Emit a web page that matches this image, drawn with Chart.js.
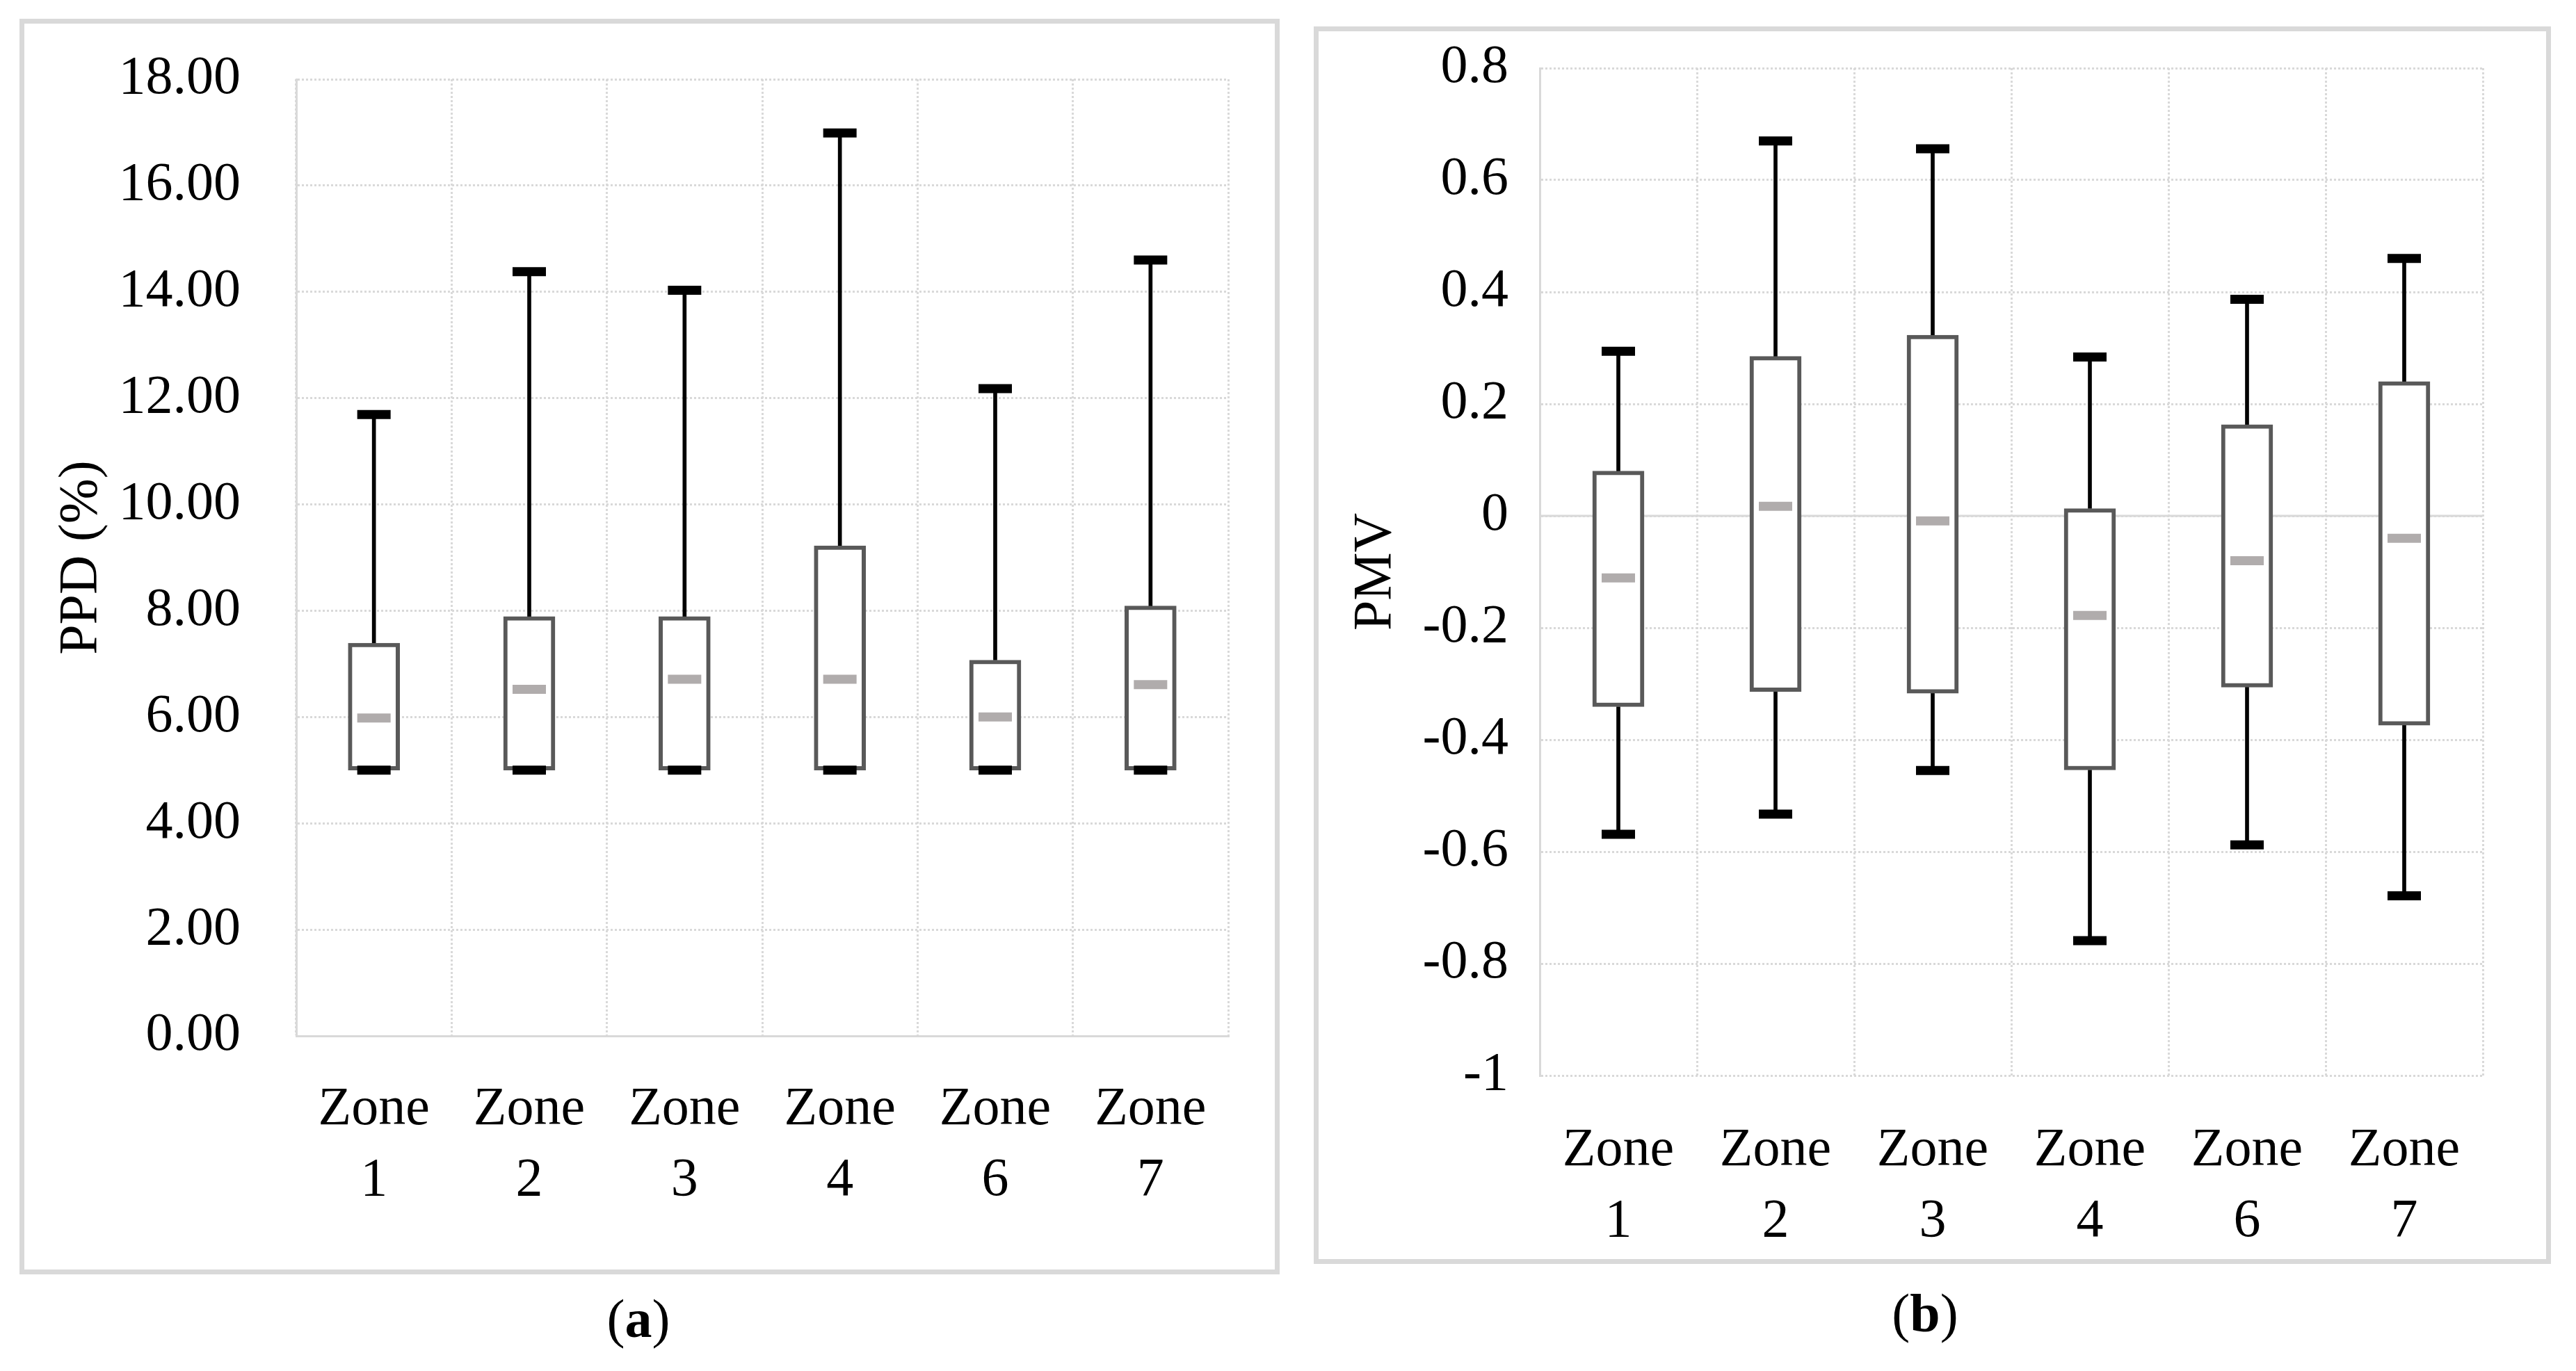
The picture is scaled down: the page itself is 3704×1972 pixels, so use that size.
<!DOCTYPE html>
<html><head><meta charset="utf-8">
<script src="https://cdn.jsdelivr.net/npm/chart.js@4.4.1/dist/chart.umd.min.js"></script>
<style>
html,body{margin:0;padding:0;background:#fff;width:3704px;height:1972px;overflow:hidden;position:relative;font-family:'Liberation Serif',serif;}
.frame{position:absolute;border:7px solid #d9d9d9;box-sizing:border-box;}
canvas{position:absolute;top:0;}
.cap{position:absolute;font-size:78px;line-height:1;transform:translate(-50%,-50%);color:#000;white-space:nowrap;font-family:'Liberation Serif',serif;}
</style></head><body>
<div class="frame" style="left:28px;top:27px;width:1812px;height:1806px"></div>
<div class="frame" style="left:1889px;top:38px;width:1779px;height:1780px"></div>
<canvas id="ppd" width="1860" height="1972" style="left:0;width:1860px;height:1972px"></canvas>
<canvas id="pmv" width="1844" height="1972" style="left:1860px;width:1844px;height:1972px"></canvas>
<div class="cap" style="left:918px;top:1897px">(<b>a</b>)</div>
<div class="cap" style="left:2768px;top:1889px">(<b>b</b>)</div>
<script>
// ---- data ----
const zones = [['Zone','1'],['Zone','2'],['Zone','3'],['Zone','4'],['Zone','6'],['Zone','7']];

const ppdMin    = [5.00, 5.00, 5.00, 5.00, 5.00, 5.00];
const ppdQ1     = [5.00, 5.00, 5.00, 5.00, 5.00, 5.00];
const ppdMedian = [5.98, 6.52, 6.71, 6.71, 6.00, 6.61];
const ppdQ3     = [7.39, 7.89, 7.89, 9.22, 7.07, 8.09];
const ppdMax    = [11.69, 14.38, 14.03, 16.99, 12.18, 14.60];
const ppdTickValues = [0, 2, 4, 6, 8, 10, 12, 14, 16, 18];
const ppdTickLabels = ['0.00','2.00','4.00','6.00','8.00','10.00','12.00','14.00','16.00','18.00'];

const pmvMin    = [-0.569, -0.533, -0.455, -0.759, -0.588, -0.679];
const pmvQ1     = [-0.341, -0.314, -0.317, -0.454, -0.306, -0.374];
const pmvMedian = [-0.111, 0.017, -0.009, -0.178, -0.080, -0.040];
const pmvQ3     = [0.080, 0.285, 0.323, 0.013, 0.163, 0.240];
const pmvMax    = [0.294, 0.670, 0.656, 0.284, 0.387, 0.460];
const pmvTickValues = [-1, -0.8, -0.6, -0.4, -0.2, 0, 0.2, 0.4, 0.6, 0.8];
const pmvTickLabels = ['-1','-0.8','-0.6','-0.4','-0.2','0','0.2','0.4','0.6','0.8'];

// ---- rendering ----
Chart.defaults.font.family = "'Liberation Serif', serif";
Chart.defaults.color = '#000';

const zeroLine = {
  id: 'zeroLine',
  beforeDatasetsDraw(chart, args, opts) {
    if (!opts.show) return;
    const {ctx, chartArea} = chart;
    const y = chart.scales.y.getPixelForValue(0);
    ctx.save();
    ctx.strokeStyle = '#d9d9d9';
    ctx.lineWidth = 3;
    ctx.beginPath();
    ctx.moveTo(chartArea.left, y);
    ctx.lineTo(chartArea.right, y);
    ctx.stroke();
    ctx.restore();
  }
};

function pair(a, b) { return a.map((v, i) => [v, b[i]]); }

function boxChart(id, d, cfg) {
  const mark = (data, color, order) => ({
    type: 'line', data, showLine: false, order,
    pointStyle: 'line', pointRadius: 24, pointHoverRadius: 24,
    pointBorderWidth: 13, pointHoverBorderWidth: 13,
    pointBorderColor: color, pointBackgroundColor: color, borderColor: color
  });
  return new Chart(document.getElementById(id), {
    type: 'bar',
    data: {
      labels: zones,
      datasets: [
        mark(d.max, '#000', 0),
        mark(d.min, '#000', 0),
        mark(d.median, '#b0acac', 0),
        { data: pair(d.q1, d.q3), backgroundColor: '#fff', borderColor: '#595959',
          borderWidth: 6, borderSkipped: false, barThickness: 74, grouped: false, order: 1 },
        { data: pair(d.q3, d.max), backgroundColor: '#000', borderWidth: 0,
          barThickness: 5, grouped: false, order: 2 },
        { data: pair(d.min, d.q1), backgroundColor: '#000', borderWidth: 0,
          barThickness: 5, grouped: false, order: 2 }
      ]
    },
    options: {
      responsive: false, animation: false, devicePixelRatio: 1, events: [],
      layout: { padding: cfg.padding },
      plugins: { legend: { display: false }, tooltip: { enabled: false }, zeroLine: { show: cfg.zero } },
      scales: {
        x: {
          offset: true,
          grid: { color: '#d9d9d9', lineWidth: 3, drawTicks: false, offset: true },
          border: { display: cfg.xBorder, color: '#d9d9d9', width: 3, dash: [3, 3] },
          ticks: { font: { size: 78, lineHeight: 1.3 }, padding: cfg.xPad, maxRotation: 0, autoSkip: false },
          afterFit(s) { s.height = 300; s.paddingLeft = 0; s.paddingRight = 0; }
        },
        y: {
          min: cfg.min, max: cfg.max,
          afterBuildTicks(s) { s.ticks = cfg.tickValues.map(v => ({ value: v })); },
          grid: { color: '#d9d9d9', lineWidth: 3, drawTicks: false },
          border: { display: true, color: '#d9d9d9', width: 3, dash: [3, 3] },
          ticks: { font: { size: 78 }, padding: cfg.yPad, callback: (v, i) => cfg.tickLabels[i] },
          title: { display: true, text: cfg.title, font: { size: 78, lineHeight: 1.2 }, padding: { top: cfg.titlePad, bottom: 0 } },
          afterFit(s) { s.width = cfg.yWidth; s.paddingTop = 40; s.paddingBottom = 40; }
        }
      }
    },
    plugins: [zeroLine]
  });
}

boxChart('ppd',
  { min: ppdMin, q1: ppdQ1, median: ppdMedian, q3: ppdQ3, max: ppdMax },
  { padding: { left: 0, top: 114, right: 94, bottom: 182 }, min: 0, max: 18,
    tickValues: ppdTickValues, tickLabels: ppdTickLabels, title: 'PPD (%)',
    titlePad: 71, yWidth: 426, yPad: 80, xPad: 56, xBorder: true, zero: false });

boxChart('pmv',
  { min: pmvMin, q1: pmvQ1, median: pmvMedian, q3: pmvQ3, max: pmvMax },
  { padding: { left: 0, top: 98, right: 134, bottom: 125 }, min: -1, max: 0.8,
    tickValues: pmvTickValues, tickLabels: pmvTickLabels, title: 'PMV',
    titlePad: 72, yWidth: 354, yPad: 45, xPad: 58, xBorder: false, zero: true });
</script>
</body></html>
